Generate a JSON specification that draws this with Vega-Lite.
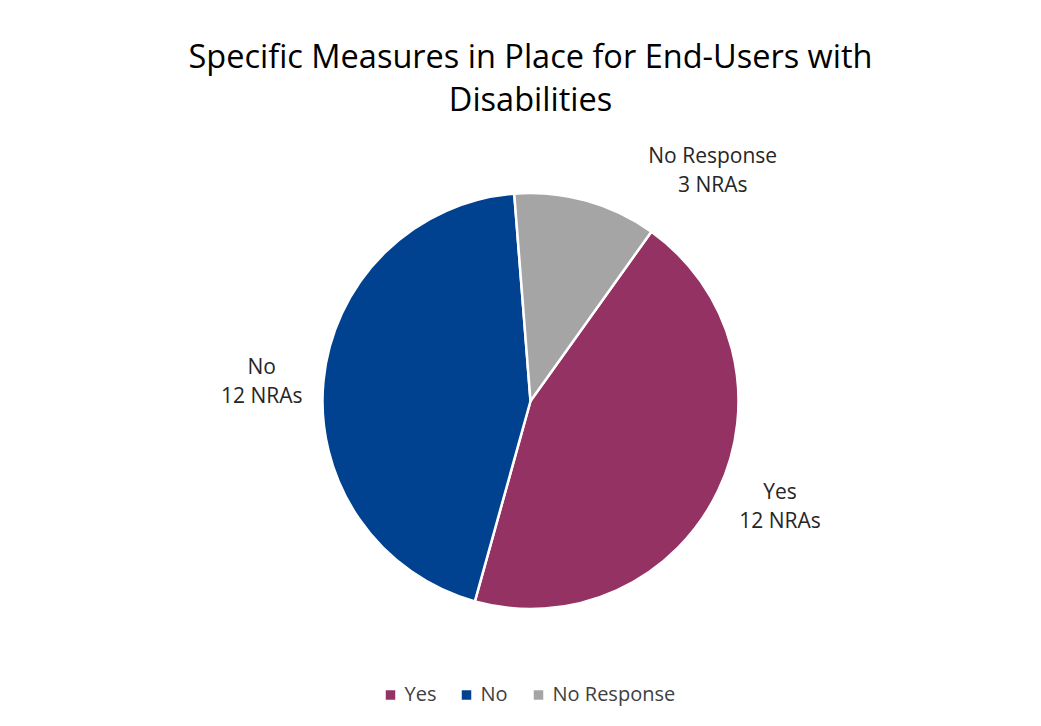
{
  "$schema": "https://vega.github.io/schema/vega-lite/v6.json",
  "autosize": {"type": "fit", "contains": "padding"},
  "width": 1041,
  "height": 726,
  "padding": {"top": 41, "left": 20, "right": 0, "bottom": 65},
  "background": "white",
  "title": {
    "text": ["Specific Measures in Place for End-Users with", "Disabilities"],
    "font": "Open Sans",
    "fontSize": 32.5,
    "fontWeight": "normal",
    "color": "#000000",
    "lineHeight": 43,
    "anchor": "middle",
    "offset": 24
  },
  "data": {
    "values": [
      {"category": "Yes", "count": 12, "rank": 1, "label": "Yes\n12 NRAs"},
      {"category": "No", "count": 12, "rank": 2, "label": "No\n12 NRAs"},
      {"category": "No Response", "count": 3, "rank": 3, "label": "No Response\n3 NRAs"}
    ]
  },
  "transform": [
    {"stack": "count", "groupby": [], "sort": [{"field": "rank", "order": "ascending"}], "as": ["start", "end"]},
    {"calculate": "(datum.start + datum.end) / 2", "as": "mid"}
  ],
  "encoding": {
    "color": {
      "field": "category",
      "type": "nominal",
      "scale": {"domain": ["Yes", "No", "No Response"], "range": ["#953264", "#00428F", "#A5A5A5"]},
      "legend": {
        "orient": "none",
        "legendX": {"expr": "width/2 - 150"},
        "legendY": {"expr": "height + 24"},
        "direction": "horizontal",
        "title": null,
        "symbolType": "square",
        "symbolSize": 90,
        "symbolStrokeWidth": 0,
        "labelFont": "Open Sans",
        "labelFontSize": 20,
        "labelColor": "#404040",
        "columnPadding": 20
      }
    }
  },
  "layer": [
    {
      "mark": {"type": "arc", "outerRadius": 208, "stroke": "white", "strokeWidth": 2.5},
      "encoding": {
        "theta": {"field": "start", "type": "quantitative", "scale": {"domain": [0, 27], "range": [0.62, 6.903]}},
        "theta2": {"field": "end"}
      }
    },
    {
      "transform": [{"filter": "datum.category === 'Yes'"}],
      "mark": {"type": "text", "radius": 272, "dx": 4, "dy": -25, "lineBreak": "\n", "font": "Open Sans", "fontSize": 21, "lineHeight": 29, "baseline": "middle", "align": "center"},
      "encoding": {"theta": {"field": "mid", "type": "quantitative"}, "text": {"field": "label"}, "color": {"value": "#262626"}}
    },
    {
      "transform": [{"filter": "datum.category === 'No'"}],
      "mark": {"type": "text", "radius": 270, "dy": -7, "lineBreak": "\n", "font": "Open Sans", "fontSize": 21, "lineHeight": 29, "baseline": "middle", "align": "center"},
      "encoding": {"theta": {"field": "mid", "type": "quantitative"}, "text": {"field": "label"}, "color": {"value": "#262626"}}
    },
    {
      "transform": [{"filter": "datum.category === 'No Response'"}],
      "mark": {"type": "text", "radius": 270, "dx": 110, "dy": 16, "lineBreak": "\n", "font": "Open Sans", "fontSize": 21, "lineHeight": 29, "baseline": "middle", "align": "center"},
      "encoding": {"theta": {"field": "mid", "type": "quantitative"}, "text": {"field": "label"}, "color": {"value": "#262626"}}
    }
  ],
  "config": {"view": {"stroke": null}}
}
